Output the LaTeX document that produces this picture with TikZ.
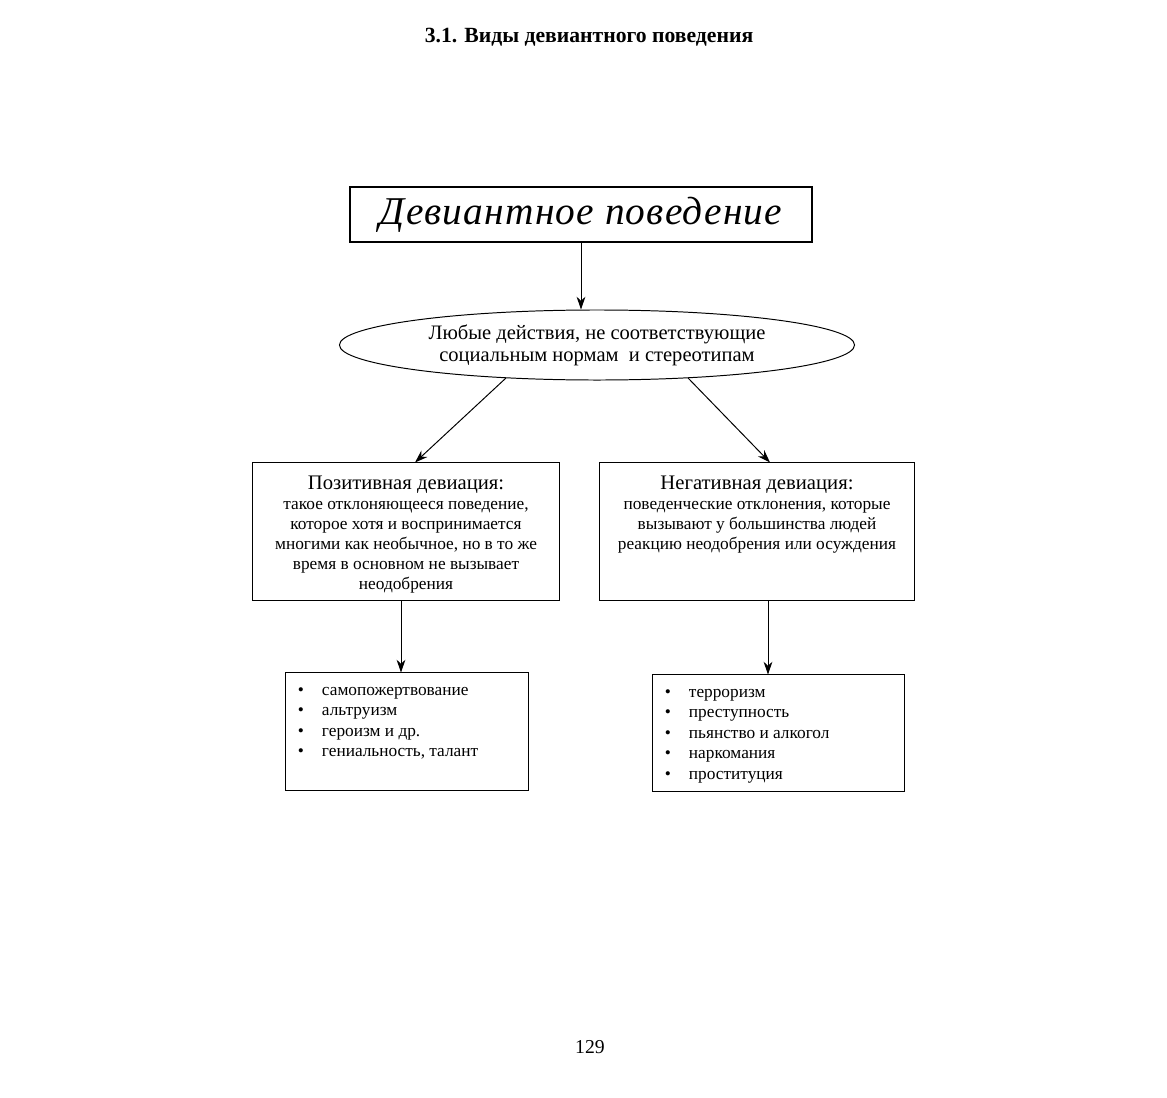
\documentclass[tikz,border=0pt]{standalone}
\usepackage{fontspec}
\setmainfont{Liberation Serif}
\newfontfamily\titlefont[LetterSpace=3]{Liberation Serif}
\usetikzlibrary{shapes.geometric, arrows.meta, positioning, calc}
\tikzstyle{mainbox} = [draw, rectangle, line width=1.4pt, minimum width=11.55cm, minimum height=1.375cm, inner sep=0pt]
\tikzstyle{idea} = [draw, ellipse, line width=0.7pt, minimum width=12.875cm, minimum height=1.75cm, inner sep=0pt, align=center, font=\fontsize{14.6}{15.8}\selectfont]
\tikzstyle{kindbox} = [draw, rectangle, line width=0.7pt, inner sep=0pt]
\tikzstyle{listbox} = [draw, rectangle, line width=0.7pt, inner sep=0pt]
\tikzstyle{arrw} = [line width=0.7pt, -{Stealth[length=3.2mm, width=2.2mm]}]
\newcommand{\itm}{\makebox[0.9cm][l]{\hspace{0.3cm}\textbullet}}
\newcommand{\kindhead}{\fontsize{14.7}{16}\selectfont}
\newcommand{\kindtext}{\fontsize{12.3}{14.3}\selectfont}
\newcommand{\listtext}{\fontsize{12.3}{14.6}\selectfont}
\begin{document}
\begin{tikzpicture}[x=0.025cm, y=-0.025cm]
    \useasboundingbox (0,0) rectangle (1167,1098);
    \node (head) at (589,37) {\fontsize{15.4}{17}\selectfont\bfseries 3.1. Виды девиантного поведения};

    \node (dev) [mainbox] at (581,214.5) {\titlefont\itshape\fontsize{28}{32}\selectfont Девиантное поведение};
    \node (ell) [idea] at (597,345) {\raisebox{-0.05cm}{\parbox{8.5cm}{\centering Любые действия, не соответствующие\\социальным нормам \ и стереотипам}}};

    \node (pos) [kindbox] at (406,531.5) {\parbox[c][3.425cm][t]{7.65cm}{\centering\vspace*{9pt}%
        \kindhead Позитивная девиация:\par
        \kindtext такое отклоняющееся поведение,\\ которое хотя и воспринимается\\ многими как необычное, но в то же\\ время в основном не вызывает\\ неодобрения\par}};
    \node (kneg) [kindbox] at (757,531.5) {\parbox[c][3.425cm][t]{7.85cm}{\centering\vspace*{9pt}%
        \kindhead Негативная девиация:\par
        \kindtext поведенческие отклонения, которые\\ вызывают у большинства людей\\ реакцию неодобрения или осуждения\par}};

    \node (plist) [listbox] at (407,731.5) {\parbox[c][2.925cm][t]{6.05cm}{\raggedright\listtext\vspace*{10pt}%
        \itm самопожертвование\\ \itm альтруизм\\ \itm героизм и др.\\ \itm гениальность, талант\par}};
    \node (nlist) [listbox] at (778.5,733) {\parbox[c][2.9cm][t]{6.275cm}{\raggedright\listtext\vspace*{10pt}%
        \itm терроризм\\ \itm преступность\\ \itm пьянство и алкогол\\ \itm наркомания\\ \itm проституция\par}};

    \node (page) at (590,1047) {\fontsize{14}{16}\selectfont 129};

    \draw [arrw] (dev.south) -- (dev.south |- ell.north);
    \draw [arrw] (ell.200) -- ($(pos.north)+(9,0)$);
    \draw [arrw] (ell.340) -- ($(kneg.north)+(13,0)$);
    \draw [arrw] ($(pos.south)+(-5,0)$) -- ($(plist.north)+(-6,0)$);
    \draw [arrw] ($(kneg.south)+(11,0)$) -- ($(nlist.north)+(-10.5,0)$);
\end{tikzpicture}
\end{document}
